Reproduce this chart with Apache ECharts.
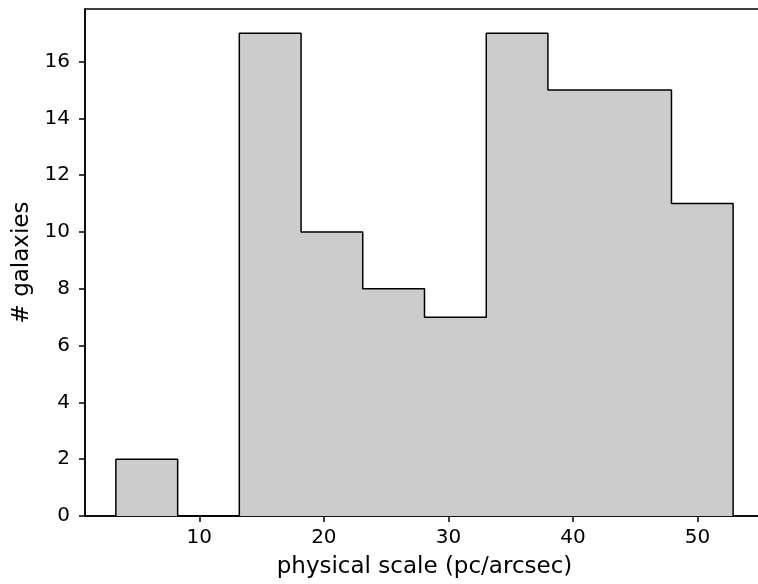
<!DOCTYPE html>
<html>
<head>
<meta charset="utf-8">
<script src="https://cdn.jsdelivr.net/npm/echarts@6/dist/echarts.min.js"></script>
<style>
  html, body { margin: 0; padding: 0; background: #fff; overflow: hidden; }
  #chart { width: 758px; height: 584px; }
</style>
</head>
<body>
<div id="chart"></div>
<script>
// Histogram of physical scale: bin edges and galaxy counts per bin
const binEdges = [3.30, 8.26, 13.21, 18.17, 23.12, 28.08, 33.04, 37.99, 42.95, 47.91, 52.86];
const counts = [2, 0, 17, 10, 8, 7, 17, 15, 15, 11];
const xTicks = [10, 20, 30, 40, 50];
const yTicks = [0, 2, 4, 6, 8, 10, 12, 14, 16];

// Step outline: rise at the first edge, one step per bin, drop at the last edge
const stepPoints = [[binEdges[0], 0]];
counts.forEach((c, i) => stepPoints.push([binEdges[i], c]));
stepPoints.push([binEdges[binEdges.length - 1], 0]);

const font = 'DejaVu Sans';
const chart = echarts.init(document.getElementById('chart'), null, { renderer: 'canvas' });
chart.setOption({
  animation: false,
  backgroundColor: '#ffffff',
  grid: {
    left: 85, top: 9, width: 679, bottom: 68,
    outerBoundsMode: 'none',
    containLabel: false,
    show: true, borderColor: '#000', borderWidth: 1.5, backgroundColor: 'transparent'
  },
  xAxis: {
    type: 'value',
    min: 0.82, max: 55.34,
    name: 'physical scale (pc/arcsec)',
    nameLocation: 'middle', nameGap: 40,
    nameTextStyle: { fontFamily: font, fontSize: 23, color: '#000' },
    axisLine: { show: true, onZero: false, lineStyle: { color: '#000', width: 1.5 } },
    axisTick: { show: true, customValues: xTicks, length: 6, lineStyle: { color: '#000', width: 1.5 } },
    axisLabel: { customValues: xTicks, fontFamily: font, fontSize: 20, color: '#000', margin: 12 },
    splitLine: { show: false }
  },
  yAxis: {
    type: 'value',
    min: 0, max: 17.85,
    name: '# galaxies',
    nameLocation: 'middle', nameGap: 51,
    nameTextStyle: { fontFamily: font, fontSize: 23, color: '#000' },
    axisLine: { show: true, lineStyle: { color: '#000', width: 1.5 } },
    axisTick: { show: true, customValues: yTicks, length: 6, lineStyle: { color: '#000', width: 1.5 } },
    axisLabel: { customValues: yTicks, fontFamily: font, fontSize: 20, color: '#000', margin: 15 },
    splitLine: { show: false }
  },
  series: [{
    type: 'line',
    step: 'end',
    data: stepPoints,
    symbol: 'none',
    lineStyle: { color: '#000', width: 1.5 },
    areaStyle: { color: '#cccccc', opacity: 1, origin: 'start' },
    z: 3
  }]
});
</script>
</body>
</html>
